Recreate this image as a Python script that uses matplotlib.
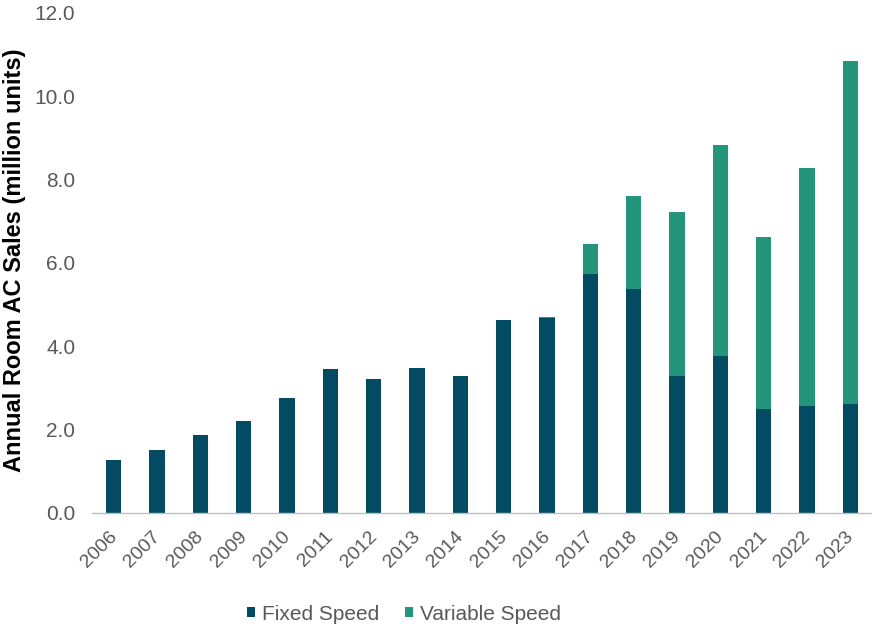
import matplotlib
matplotlib.use("Agg")
import matplotlib.pyplot as plt
import matplotlib.transforms as mtransforms
import numpy as np

plt.rcParams['font.family'] = ['Liberation Sans', 'DejaVu Sans']

years = ["2006", "2007", "2008", "2009", "2010", "2011", "2012", "2013", "2014",
         "2015", "2016", "2017", "2018", "2019", "2020", "2021", "2022", "2023"]
fixed_speed = [1.28, 1.51, 1.87, 2.22, 2.75, 3.45, 3.21, 3.49, 3.30,
               4.64, 4.68, 5.73, 5.38, 3.30, 3.78, 2.50, 2.56, 2.62]
variable_speed = [0.0, 0.0, 0.0, 0.0, 0.0, 0.0, 0.0, 0.0, 0.0,
                  0.0, 0.03, 0.73, 2.24, 3.93, 5.05, 4.12, 5.72, 8.23]
y_ticks = [0, 2, 4, 6, 8, 10, 12]

fixed_color = "#034B62"
variable_color = "#22957A"
text_gray = "#595959"

fig = plt.figure(figsize=(8.72, 6.26), dpi=100)
ax = fig.add_axes([92 / 872, 1 - 513 / 626, 780 / 872, 500 / 626])

x = np.arange(len(years))
width = 0.35
ax.bar(x, fixed_speed, width, color=fixed_color, label="Fixed Speed", zorder=2)
ax.bar(x, variable_speed, width, bottom=fixed_speed, color=variable_color,
       label="Variable Speed", zorder=2)

ax.set_xlim(-0.5, len(years) - 0.5)
ax.set_ylim(0, 12)
ax.set_yticks(y_ticks)
ax.set_yticklabels([f"{v:.1f}" for v in y_ticks], color=text_gray, fontsize=15)
ax.set_xticks(x)
ax.set_xticklabels(years, rotation=45, ha="right", rotation_mode="anchor",
                   color=text_gray, fontsize=14)
ax.tick_params(axis="both", length=0)
ax.tick_params(axis="y", pad=12)
ax.tick_params(axis="x", pad=11)

# nudge the slanted year labels a little to the left
shift = mtransforms.ScaledTranslation(-4 / 72, 0, fig.dpi_scale_trans)
for lbl in ax.get_xticklabels():
    lbl.set_transform(lbl.get_transform() + shift)

for side in ("top", "right", "left"):
    ax.spines[side].set_visible(False)
ax.spines["bottom"].set_color("#BFBFBF")
ax.spines["bottom"].set_linewidth(1.0)

fig.text(15 / 872, 1 - 260 / 626, "Annual Room AC Sales (million units)",
         rotation=90, ha="center", va="center", fontsize=17,
         fontweight="bold", color="black")

handles, labels = ax.get_legend_handles_labels()
fig.legend(handles, labels, loc="center", bbox_to_anchor=(404 / 872, 1 - 614 / 626),
           ncol=2, frameon=False, fontsize=15, handlelength=0.4, handleheight=0.4,
           handletextpad=0.35, columnspacing=1.2, labelcolor=text_gray,
           borderpad=0)

fig.savefig("out.png", dpi=100)
